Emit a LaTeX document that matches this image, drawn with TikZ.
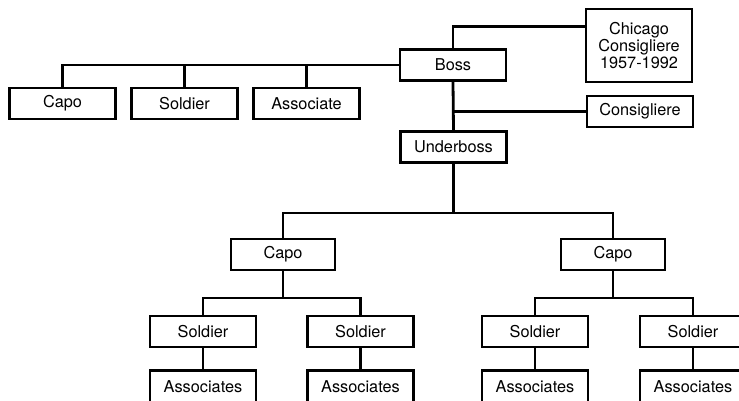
\documentclass[tikz,border=0pt]{standalone}
\usepackage{fontspec}
\setmainfont{TeX Gyre Heros}
\usetikzlibrary{calc}
\begin{document}
\begin{tikzpicture}[x=1pt,y=-1pt,
  box/.style={draw,line width=2.8pt,minimum width=106pt,minimum height=31pt,inner sep=0pt,
    font=\fontsize{16.3}{17}\selectfont,align=center},
  conn/.style={line width=2.8pt}]
\useasboundingbox (0,0) rectangle (739,401);
\clip (0,0) rectangle (739,401);
% top row
\node[box] (boss) at (453,65) {Boss};
\node[box] (capoT) at (62.5,103.5) {Capo};
\node[box] (soldT) at (184.5,103.5) {Soldier};
\node[box] (assocT) at (306.5,103.5) {Associate};
\node[box,minimum height=73pt] (chicago) at (639,45.5) {Chicago\\Consigliere\\1957-1992};
\node[box] (consig) at (640,111.5) {Consigliere};
\node[box] (under) at (453.5,147) {Underboss};
% capos
\node[box,minimum width=104pt] (capoA) at (283,254.5) {Capo};
\node[box,minimum width=104pt] (capoB) at (613,254.5) {Capo};
% soldiers
\node[box] (s1) at (203,331.5) {Soldier};
\node[box] (s2) at (360.5,331.5) {Soldier};
\node[box] (s3) at (535,331.5) {Soldier};
\node[box] (s4) at (693,331.5) {Soldier};
% associates
\node[box,minimum height=33pt] (a1) at (203,387) {Associates};
\node[box,minimum height=33pt] (a2) at (360.5,387) {Associates};
\node[box,minimum height=33pt] (a3) at (535,387) {Associates};
\node[box,minimum height=33pt] (a4) at (693,387) {Associates};
% connectors
\draw[conn] (capoT.north) |- (boss.west);
\draw[conn] (soldT.north) -- (soldT.north |- boss.west);
\draw[conn] (assocT.north) -- (assocT.north |- boss.west);
\draw[conn] (boss.north) |- ($(chicago.north west)!0.25!(chicago.south west)$);
\draw[conn] (boss.south) -- (under.north);
\draw[conn] (consig.west) -- (consig.west -| boss.south);
\coordinate (j1) at ($(under.south)+(0,49)$);
\draw[conn] (under.south) -- (j1);
\draw[conn] (capoA.north) |- (j1) -| (capoB.north);
\coordinate (j2) at ($(capoA.south)+(0,26.5)$);
\coordinate (j3) at ($(capoB.south)+(0,26.5)$);
\draw[conn] (capoA.south) -- (j2);
\draw[conn] (capoB.south) -- (j3);
\draw[conn] (s1.north) |- (j2) -| (s2.north);
\draw[conn] (s3.north) |- (j3) -| (s4.north);
\draw[conn] (s1.south) -- (a1.north);
\draw[conn] (s2.south) -- (a2.north);
\draw[conn] (s3.south) -- (a3.north);
\draw[conn] (s4.south) -- (a4.north);
\end{tikzpicture}
\end{document}
